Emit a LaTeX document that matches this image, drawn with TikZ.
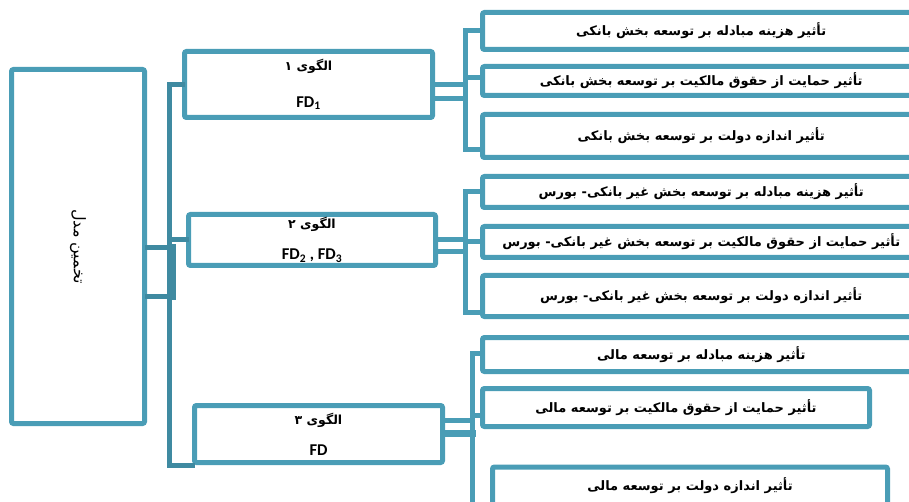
\documentclass[tikz,border=0pt]{standalone}
\usepackage{fontspec}
\usepackage{graphicx}
\usetikzlibrary{positioning,calc}
\setmainfont{Carlito}
\newfontfamily\fafont[Script=Arabic]{DejaVu Sans}
\TeXXeTstate=1
\newcommand{\fa}[1]{{\fafont\beginR #1\endR}}
\definecolor{boxline}{HTML}{4A9DB6}
\definecolor{busline}{HTML}{3F8AA1}
\tikzset{
  mainbox/.style={draw=boxline, line width=5pt, rounded corners=2pt, inner sep=0pt},
  patbox/.style={mainbox, minimum width=248pt, align=center, font=\bfseries\fontsize{12.5}{14}\selectfont},
  effbox/.style={mainbox, font=\bfseries\fontsize{13}{15}\selectfont},
  link/.style={draw=boxline, line width=5pt, line cap=rect},
  buslink/.style={link, draw=busline}
}
\newcommand{\fdfont}{\fontsize{16.5}{18}\selectfont}
\begin{document}
\begin{tikzpicture}[x=1pt,y=-1pt]
  \useasboundingbox (0,0) rectangle (909,502);
  \clip (0,0) rectangle (909,502);

  % left box and the three patterns
  \node[mainbox, minimum width=133pt, minimum height=354pt] (model) at (78,246.5)
    {\rotatebox{-90}{\fontsize{16}{18}\selectfont\fa{تخمین مدل}}};
  \node[patbox, minimum height=66pt] (pat1) at (308.5,84.5)
    {\fa{الگوی ۱}\\[23pt]\fdfont FD\textsubscript{1}};
  \node[patbox, minimum width=247pt, minimum height=51pt] (pat2) at (312,240)
    {\fa{الگوی ۲}\\[17pt]\fdfont FD\textsubscript{2} , FD\textsubscript{3}};
  \node[patbox, minimum height=57pt] (pat3) at (318.5,434)
    {\fa{الگوی ۳}\\[17pt]\fdfont FD};

  % effects
  \node[effbox, minimum width=437.5pt, minimum height=37pt] (ef11) at (701.25,31) {\fa{تأثیر هزینه مبادله بر توسعه بخش بانکی}};
  \node[effbox, minimum width=437.5pt, minimum height=29pt] (ef12) at (701.25,81) {\fa{تأثیر حمایت از حقوق مالکیت بر توسعه بخش بانکی}};
  \node[effbox, minimum width=437.5pt, minimum height=43pt] (ef13) at (701.25,136) {\fa{تأثیر اندازه دولت بر توسعه بخش بانکی}};
  \node[effbox, minimum width=437.5pt, minimum height=31pt] (ef21) at (701.25,192) {\fa{تأثیر هزینه مبادله بر توسعه بخش غیر بانکی- بورس}};
  \node[effbox, minimum width=437.5pt, minimum height=31pt] (ef22) at (701.25,242) {\fa{تأثیر حمایت از حقوق مالکیت بر توسعه بخش غیر بانکی- بورس}};
  \node[effbox, minimum width=437.5pt, minimum height=41pt] (ef23) at (701.25,296) {\fa{تأثیر اندازه دولت بر توسعه بخش غیر بانکی- بورس}};
  \node[effbox, minimum width=437.5pt, minimum height=34pt] (ef31) at (701.25,354.5) {\fa{تأثیر هزینه مبادله بر توسعه مالی}};
  \node[effbox, minimum width=387pt, minimum height=38pt] (ef32) at (676,407.5) {\fa{تأثیر حمایت از حقوق مالکیت بر توسعه مالی}};
  \node[effbox, minimum width=395pt, anchor=north, text height=23pt, text depth=40pt] (ef33) at (690,464.5) {\fa{تأثیر اندازه دولت بر توسعه مالی}};

  % left bus
  \coordinate (lba) at (172,248);
  \coordinate (lbb) at (172,296);
  \draw[buslink] (model.east |- lba) -- (lba);
  \draw[buslink] (model.east |- lbb) -- (lbb);
  \draw[buslink, line width=7pt] (lba) -- (lbb);
  \draw[buslink] (pat1.west) -- ++(-12.5,0) |- (pat3.south west);
  \draw[buslink] (pat2.west) -- (pat2.west -| lba);

  % right buses
  \coordinate (rb1) at (465,90);
  \coordinate (rb2) at (465,250);
  \coordinate (rb3) at (472,420);
  \draw[link] (pat1.east) -- (pat1.east -| rb1);
  \draw[link] ([yshift=-14.5pt]pat1.east) -- ([yshift=-14.5pt]pat1.east -| rb1);
  \draw[link] (ef11.west) -| (rb1) |- ([yshift=-14pt]ef13.west);
  \draw[link] ([yshift=3pt]ef12.west) -- ([yshift=3pt]ef12.west -| rb1);

  \draw[link] (pat2.east) -- (pat2.east -| rb2);
  \draw[link] ([yshift=-12pt]pat2.east) -- ([yshift=-12pt]pat2.east -| rb2);
  \draw[link] (ef21.west) -| (rb2) |- ([yshift=-16pt]ef23.west);
  \draw[link] (ef22.west) -- (ef22.west -| rb2);

  \draw[link] ([yshift=14pt]pat3.east) -- ([yshift=14pt]pat3.east -| rb3);
  \draw[link, line width=7pt] ([yshift=1pt]pat3.east) -- ([yshift=1pt]pat3.east -| rb3);
  \draw[link] ([yshift=1.5pt]ef31.west) -| (rb3) |- ([yshift=-25pt]ef33.west);
  \draw[link] ([yshift=-7.5pt]ef32.west) -- ([yshift=-7.5pt]ef32.west -| rb3);
\end{tikzpicture}
\end{document}
